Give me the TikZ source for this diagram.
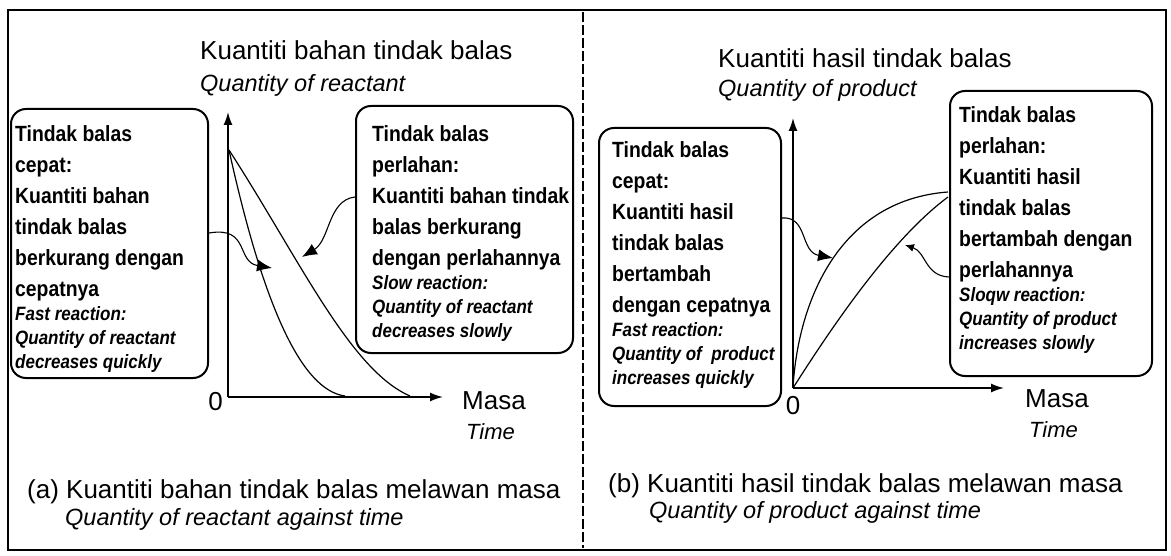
\documentclass[tikz,border=0pt]{standalone}
\usepackage{fontspec}
\setmainfont{Liberation Sans}
\newfontfamily\boxfont{Liberation Sans}[FakeStretch=0.88]
\usetikzlibrary{arrows.meta}
\newcommand\bfnt{\fontsize{22}{31}\boxfont\bfseries}
\newcommand\itfnt{\fontsize{19.3}{24}\boxfont\bfseries\itshape}
\newcommand\headfnt{\fontsize{26}{30}\selectfont}
\newcommand\headit{\fontsize{23.5}{28}\selectfont\itshape}
\tikzset{
  rbox/.style={draw, line width=2pt, rounded corners=15pt, inner sep=0pt},
  txt/.style={anchor=base west, inner sep=0pt},
  axis/.style={line width=1.6pt, -{Latex[length=13pt,width=9pt]}},
  curve/.style={line width=1.2pt},
  callout/.style={line width=1.1pt, -{Latex[length=15pt,width=12pt]}},
  smallcallout/.style={line width=1.1pt, -{Latex[length=9pt,width=8pt]}},
}
\begin{document}
\begin{tikzpicture}[x=1pt,y=-1pt]
\useasboundingbox (0,0) rectangle (1171,556);
% frame and divider
\draw[line width=2.6pt] (8,10) rectangle (1166,550);
\coordinate (divT) at (583,12);
\coordinate (divB) at (583,548);
\draw[line width=1.4pt, dash pattern=on 10pt off 3pt] (divT) -- (divB);

% ---------- panel (a) ----------
\node[txt] (headA) at (200,60) {\headfnt Kuantiti bahan tindak balas};
\node[txt] (headAi) at (200,92) {\headit Quantity of reactant};
\coordinate (oA) at (228,397);
\coordinate (yA) at (228,112);
\coordinate (xA) at (443,397);
\coordinate (sA) at (229,150);
\coordinate (fEndA) at (345,396);
\coordinate (sEndA) at (410,396);
\draw[axis] (oA) -- (yA);
\draw[axis] (oA) -- (xA);
\draw[curve] (sA) .. controls (262,300) and (300,390) .. (fEndA);
\draw[curve] (sA) .. controls (300,260) and (350,370) .. (sEndA);
\node[anchor=base east, inner sep=0pt] (zeroA) at (223,410) {\headfnt 0};
\node[txt] (masaA) at (462,409) {\headfnt Masa};
\node[txt] (timeA) at (466,439) {\fontsize{22}{26}\selectfont\itshape Time};

\node[rbox, minimum width=197pt, minimum height=269pt, anchor=north west] (boxFA) at (10,108) {};
\node[txt] (txtFA) at (15,142) {\parbox[t]{200pt}{\bfnt Tindak balas\\cepat:\\Kuantiti bahan\\tindak balas\\berkurang dengan\\cepatnya\par
\itfnt Fast reaction:\\Quantity of reactant\\decreases quickly\par}};

\node[rbox, minimum width=217pt, minimum height=247pt, anchor=north west] (boxSA) at (355,105) {};
\node[txt] (txtSA) at (372,142) {\parbox[t]{210pt}{\bfnt Tindak balas\\perlahan:\\Kuantiti bahan tindak\\balas berkurang\\dengan perlahannya\par
\itfnt Slow reaction:\\Quantity of reactant\\decreases slowly\par}};

\coordinate (tipFA) at (272,268);
\coordinate (tipSA) at (302,257);
\draw[callout] (boxFA.east |- 0,233) .. controls (250,226) and (236,262) .. (tipFA);
\draw[callout] (boxSA.west |- 0,197) .. controls (328,200) and (330,240) .. (tipSA);

\node[txt] (capA) at (27,498) {\headfnt (a) Kuantiti bahan tindak balas melawan masa};
\node[txt] (capAi) at (65,525) {\headit Quantity of reactant against time};

% ---------- panel (b) ----------
\node[txt] (headB) at (718,68) {\headfnt Kuantiti hasil tindak balas};
\node[txt] (headBi) at (718,97) {\headit Quantity of product};
\coordinate (oB) at (793,388);
\coordinate (yB) at (793,118);
\coordinate (xB) at (1004,388);
\coordinate (fEndB) at (948,192);
\coordinate (sEndB) at (948,197);
\draw[axis] (oB) -- (yB);
\draw[axis] (oB) -- (xB);
\draw[curve] (oB) .. controls (798,300) and (840,200) .. (fEndB);
\draw[curve] (oB) .. controls (830,330) and (890,240) .. (sEndB);
\node[anchor=base, inner sep=0pt] (zeroB) at (793,414) {\headfnt 0};
\node[txt] (masaB) at (1025,407) {\headfnt Masa};
\node[txt] (timeB) at (1029,437) {\fontsize{22}{26}\selectfont\itshape Time};

\node[rbox, minimum width=182pt, minimum height=278pt, anchor=north west] (boxFB) at (598,127) {};
\node[txt] (txtFB) at (612,158) {\parbox[t]{190pt}{\bfnt Tindak balas\\cepat:\\Kuantiti hasil\\tindak balas\\bertambah\\dengan cepatnya\par
\itfnt Fast reaction:\\Quantity of\ \ product\\increases quickly\par}};

\node[rbox, minimum width=202pt, minimum height=285pt, anchor=north west] (boxSB) at (949,90) {};
\node[txt] (txtSB) at (959,123) {\parbox[t]{200pt}{\bfnt Tindak balas\\perlahan:\\Kuantiti hasil\\tindak balas\\bertambah dengan\\perlahannya\par
\itfnt Sloqw reaction:\\Quantity of product\\increases slowly\par}};

\coordinate (tipFB) at (833,258);
\coordinate (tipSB) at (905,245);
\draw[callout] (boxFB.east |- 0,218) .. controls (808,216) and (800,252) .. (tipFB);
\draw[smallcallout] (boxSB.west |- 0,277) .. controls (925,276) and (926,252) .. (tipSB);

\node[txt] (capB) at (608,492) {\headfnt (b) Kuantiti hasil tindak balas melawan masa};
\node[txt] (capBi) at (649,518) {\headit Quantity of product against time};
\end{tikzpicture}
\end{document}
